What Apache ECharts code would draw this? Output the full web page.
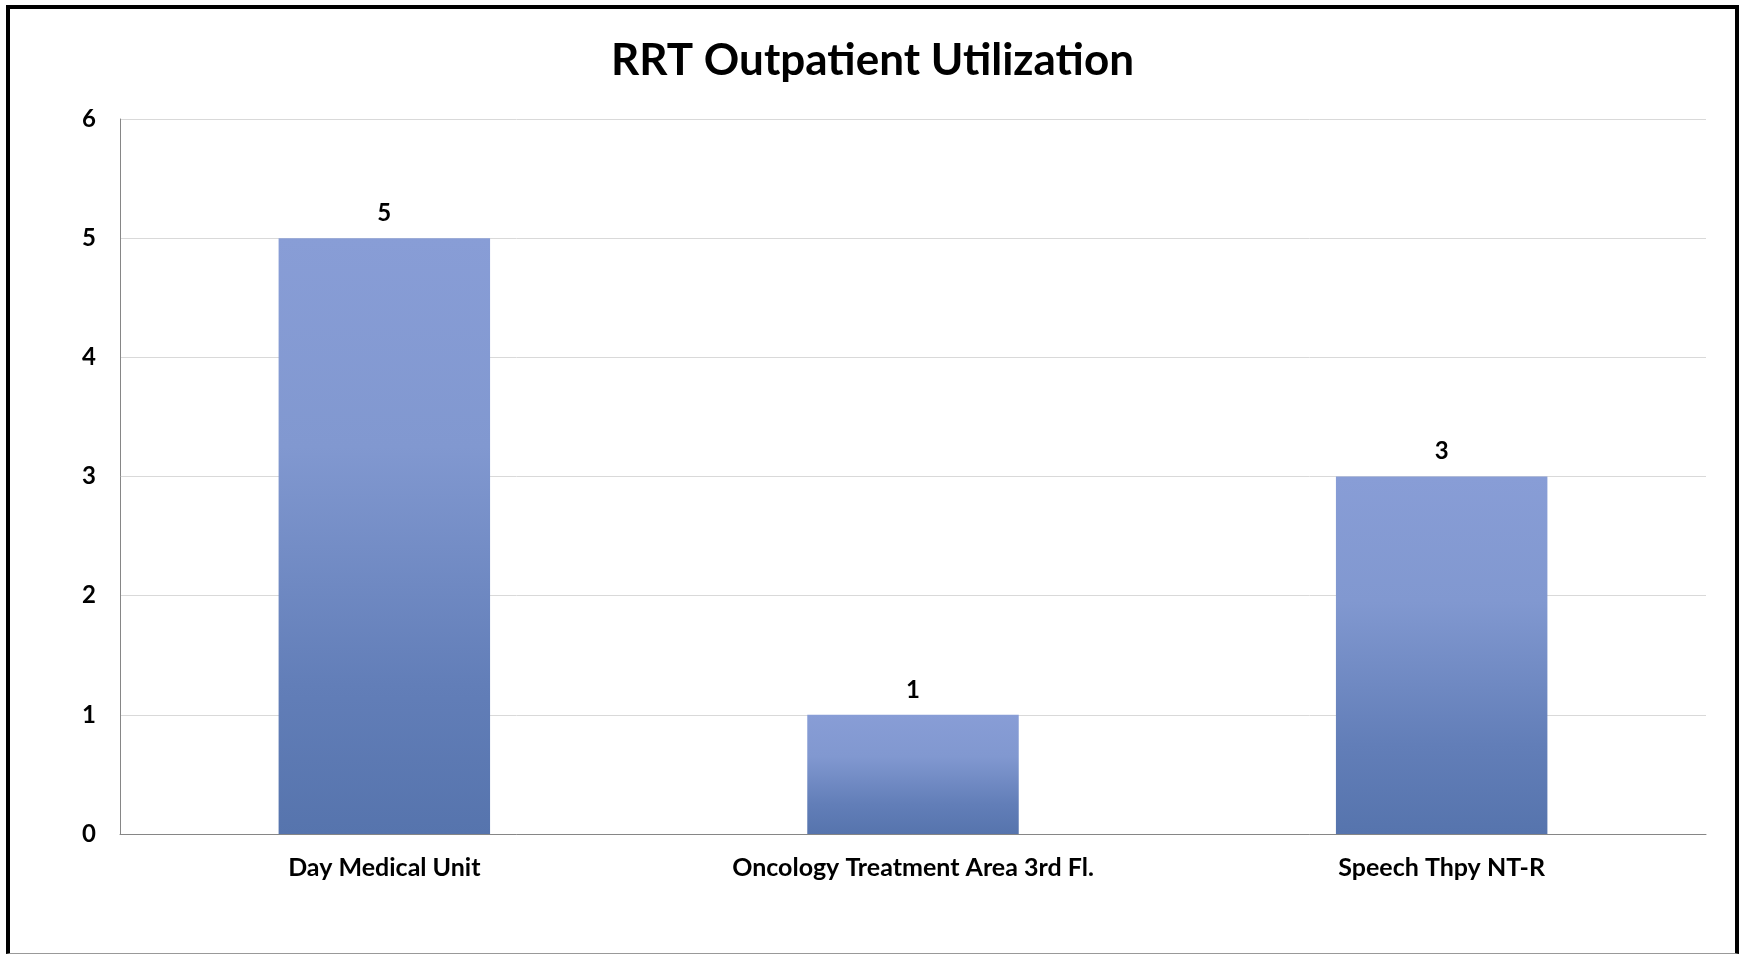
<!DOCTYPE html>
<html>
<head>
<meta charset="utf-8">
<script src="https://cdn.jsdelivr.net/npm/echarts@6/dist/echarts.min.js"></script>
<style>
  html, body { margin: 0; padding: 0; background: #fff; }
  #frame { position: absolute; left: 6px; top: 5px; width: 1725px; height: 944px;
           border-left: 4px solid #000; border-top: 4px solid #000; border-right: 4px solid #000;
           border-bottom: 1px solid #999; }
  #chart { position: absolute; left: 0; top: 0; width: 1745px; height: 955px; }
</style>
</head>
<body>
<div id="frame"></div>
<div id="chart"></div>
<script>
const categories = ['Day Medical Unit', 'Oncology Treatment Area 3rd Fl.', 'Speech Thpy NT-R'];
const values = [5, 1, 3];
const titleText = 'RRT Outpatient Utilization';

const chart = echarts.init(document.getElementById('chart'));
chart.setOption({
  animation: false,
  title: {
    text: titleText, left: 'center', top: 34,
    textStyle: { fontFamily: 'Lato', fontWeight: 'bold', fontSize: 44, color: '#000' }
  },
  grid: { left: 120, right: 39, top: 119, bottom: 121, containLabel: false },
  xAxis: {
    type: 'category', data: categories,
    axisLine: { lineStyle: { color: '#868686', width: 1 } },
    axisTick: { show: false },
    axisLabel: { fontFamily: 'Lato', fontWeight: 'bold', fontSize: 25, color: '#000', margin: 21 }
  },
  yAxis: {
    type: 'value', min: 0, max: 6, interval: 1,
    axisLine: { show: true, lineStyle: { color: '#868686', width: 1 } },
    axisTick: { show: false },
    splitLine: { lineStyle: { color: '#D9D9D9', width: 1 } },
    axisLabel: { fontFamily: 'Lato', fontWeight: 'bold', fontSize: 24, color: '#000', margin: 24 }
  },
  series: [{
    type: 'bar', data: values, barWidth: '40%',
    itemStyle: {
      color: new echarts.graphic.LinearGradient(0, 0, 0, 1, [
        { offset: 0, color: '#889DD6' },
        { offset: 0.35, color: '#8198D0' },
        { offset: 0.75, color: '#627EB8' },
        { offset: 1, color: '#5674AD' }
      ])
    },
    label: { show: true, position: 'top', distance: 13,
      fontFamily: 'Lato', fontWeight: 'bold', fontSize: 24, color: '#000' }
  }]
});
</script>
</body>
</html>
